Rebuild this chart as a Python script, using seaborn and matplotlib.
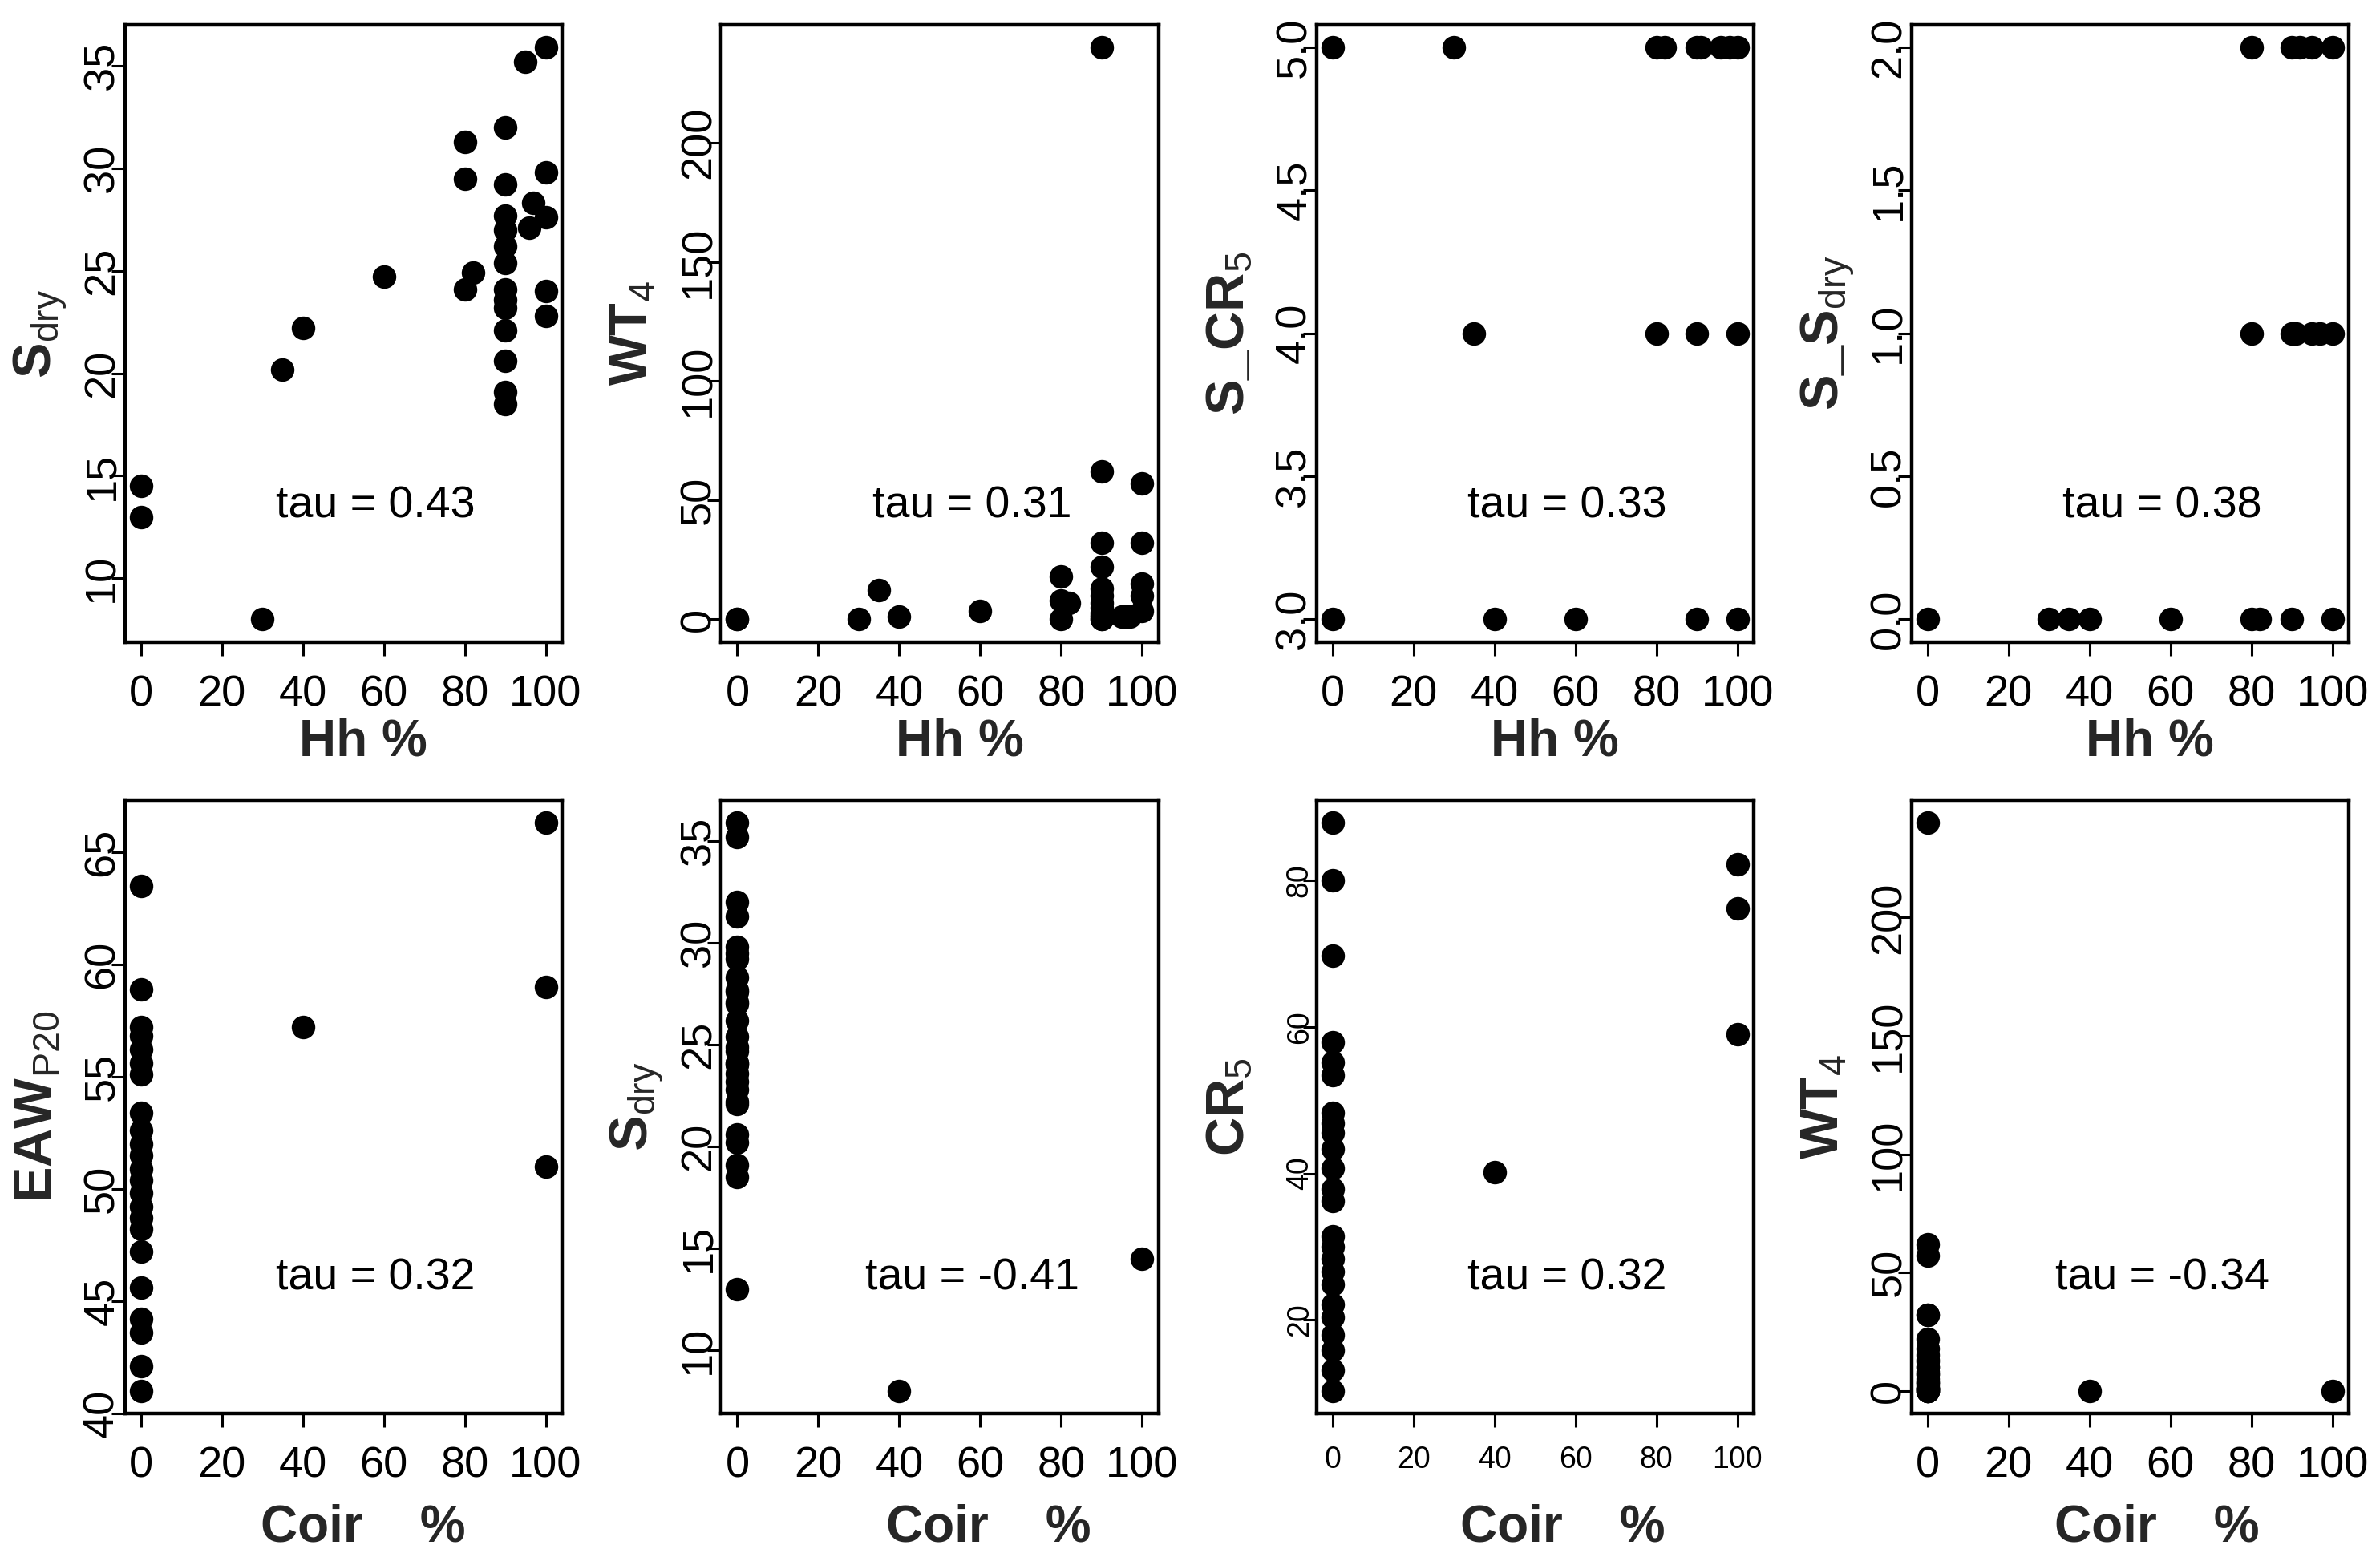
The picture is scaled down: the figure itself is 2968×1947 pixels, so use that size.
import matplotlib
matplotlib.use("Agg")
import matplotlib.pyplot as plt
import matplotlib.transforms as mtransforms
import seaborn as sns
import pandas as pd

# shared samples (Hh %, Coir %, S_dry, WT_4)
hh = [0, 0, 30, 35, 40, 60, 80, 80, 80, 82,
      90, 90, 90, 90, 90, 90, 90, 90, 90, 90, 90, 90, 90,
      95, 97, 96, 100, 100, 100, 100, 100]
coir = [100, 0, 40, 0, 0, 0, 0, 0, 0, 0,
        0, 0, 0, 0, 0, 0, 0, 0, 0, 0, 0, 0, 0,
        0, 0, 0, 0, 0, 0, 0, 0]
s_dry = [14.5, 13.0, 8.0, 20.2, 22.2, 24.7, 31.3, 29.5, 24.1, 24.9,
         32.0, 29.2, 27.7, 27.0, 26.2, 25.4, 24.1, 23.6, 23.2, 22.1, 20.6, 19.1, 18.5,
         35.2, 28.3, 27.1, 35.9, 29.8, 27.6, 24.0, 22.8]
wt4 = [0, 0, 0, 12.4, 1, 3.5, 18, 8, 0, 7,
       240, 62, 32, 22, 13, 10, 7, 5, 3, 2, 1, 0, 0,
       1, 1, 1, 57, 32, 15, 10, 3.5]

# S_CR5 scores vs Hh %
hh_scr5 = [0, 30, 80, 82, 90, 91, 96, 98, 100, 35, 80, 90, 100, 0, 40, 60, 90, 100]
s_cr5 = [5, 5, 5, 5, 5, 5, 5, 5, 5, 4, 4, 4, 4, 3, 3, 3, 3, 3]

# S_S_dry scores vs Hh %
hh_ssdry = [80, 90, 92, 95, 100, 80, 90, 91, 95, 97, 100,
            0, 30, 35, 40, 60, 80, 82, 90, 100]
s_sdry = [2, 2, 2, 2, 2, 1, 1, 1, 1, 1, 1,
          0, 0, 0, 0, 0, 0, 0, 0, 0]

# EAW_P20 vs Coir %
coir_eaw = [0, 0, 0, 0, 0, 0, 0, 0, 0, 0, 0, 0, 0, 0, 0, 0, 0, 0, 0, 0, 0, 0, 0,
            40, 100, 100, 100]
eaw = [63.5, 58.9, 57.2, 56.8, 56.2, 55.6, 55.1, 53.4, 52.6, 52.0, 51.5, 50.9,
       50.4, 49.8, 49.2, 48.7, 48.2, 47.2, 45.6, 44.2, 43.6, 42.1, 41.0,
       57.2, 66.3, 59.0, 51.0]

# CR_5 vs Coir %
coir_cr5 = [0, 0, 0, 0, 0, 0, 0, 0, 0, 0, 0, 0, 0, 0, 0, 0, 0, 0, 0, 0, 0, 0, 0, 0,
            40, 100, 100, 100]
cr5 = [87.9, 80.0, 69.7, 57.9, 55.2, 53.4, 48.3, 46.9, 45.5, 43.4, 40.7, 37.9,
       36.2, 31.4, 30.0, 28.3, 26.6, 24.8, 22.1, 20.3, 17.9, 15.9, 13.1, 10.3,
       40.2, 82.2, 76.2, 59.0]

taus = ["0.43", "0.31", "0.33", "0.38", "0.32", "-0.41", "0.32", "-0.34"]

samples = pd.DataFrame({"hh": hh, "coir": coir, "s_dry": s_dry, "wt4": wt4})

sns.set_theme(style="ticks")
plt.rcParams["font.family"] = ["Liberation Sans", "DejaVu Sans"]
plt.rcParams["mathtext.fontset"] = "custom"
plt.rcParams["mathtext.rm"] = "Liberation Sans"
plt.rcParams["mathtext.bf"] = "Liberation Sans:bold"
plt.rcParams["mathtext.it"] = "Liberation Sans:italic"


def r_lim(v):
    lo, hi = min(v), max(v)
    d = 0.04 * (hi - lo)
    return lo - d, hi + d


panels = [
    (samples["hh"], samples["s_dry"], "Hh %", r"$\mathbf{S}_{\mathrm{dry}}$",
     [10, 15, 20, 25, 30, 35], "{:.0f}"),
    (samples["hh"], samples["wt4"], "Hh %", r"$\mathbf{WT}_{\mathrm{4}}$",
     [0, 50, 100, 150, 200], "{:.0f}"),
    (hh_scr5, s_cr5, "Hh %", r"$\mathbf{S\_CR}_{\mathrm{5}}$",
     [3.0, 3.5, 4.0, 4.5, 5.0], "{:.1f}"),
    (hh_ssdry, s_sdry, "Hh %", r"$\mathbf{S\_S}_{\mathrm{dry}}$",
     [0.0, 0.5, 1.0, 1.5, 2.0], "{:.1f}"),
    (coir_eaw, eaw, "Coir    %", r"$\mathbf{EAW}_{\mathrm{P20}}$",
     [40, 45, 50, 55, 60, 65], "{:.0f}"),
    (samples["coir"], samples["s_dry"], "Coir    %", r"$\mathbf{S}_{\mathrm{dry}}$",
     [10, 15, 20, 25, 30, 35], "{:.0f}"),
    (coir_cr5, cr5, "Coir    %", r"$\mathbf{CR}_{\mathrm{5}}$",
     [20, 40, 60, 80], "{:.0f}"),
    (samples["coir"], samples["wt4"], "Coir    %", r"$\mathbf{WT}_{\mathrm{4}}$",
     [0, 50, 100, 150, 200], "{:.0f}"),
]

fig = plt.figure(figsize=(14.84, 9.735), dpi=200)
lefts = [0.0524, 0.3030, 0.5531, 0.8031]
row_bottom = [0.5886, 0.0945]
row_height = [0.3957, 0.3929]
width = 0.1837
xlab_x = [0.545, 0.545, 0.545, 0.545, 0.545, 0.611, 0.564, 0.561]
xlab_y = [-0.184, -0.209]

for i, (xs, ys, xl, yl, yt, fmt) in enumerate(panels):
    row, col = divmod(i, 4)
    ax = fig.add_axes([lefts[col], row_bottom[row], width, row_height[row]])
    sns.scatterplot(x=list(xs), y=list(ys), ax=ax, color="black", s=112,
                    linewidth=0, legend=False)
    ax.set_xlim(-4, 104)
    ax.set_ylim(*r_lim(list(ys)))
    tick_size = 13.5 if i == 6 else 19.5
    ax.set_xticks([0, 20, 40, 60, 80, 100])
    ax.set_yticks(yt, [fmt.format(t) for t in yt], rotation=90, va="center")
    ax.tick_params(direction="out", length=6, width=1.1, color="black",
                   labelsize=tick_size, labelcolor="black")
    ax.tick_params(axis="x", pad=8.5)
    ax.tick_params(axis="y", pad=-5)
    for sp in ax.spines.values():
        sp.set_visible(True)
        sp.set_linewidth(1.6)
        sp.set_color("black")
    ax.set_xlabel(xl, fontsize=23, fontweight="bold", va="baseline")
    ax.xaxis.set_label_coords(xlab_x[i], xlab_y[row])
    ax.set_ylabel(yl, fontsize=24, va="baseline")
    ax.yaxis.set_label_coords(-0.168, 0.5)
    trans = mtransforms.blended_transform_factory(ax.transData, ax.transAxes)
    ax.text(58, 0.22, "tau = " + taus[i], transform=trans, ha="center",
            va="center", fontsize=20, color="black")

fig.savefig("out.png", dpi=200, facecolor="white")
